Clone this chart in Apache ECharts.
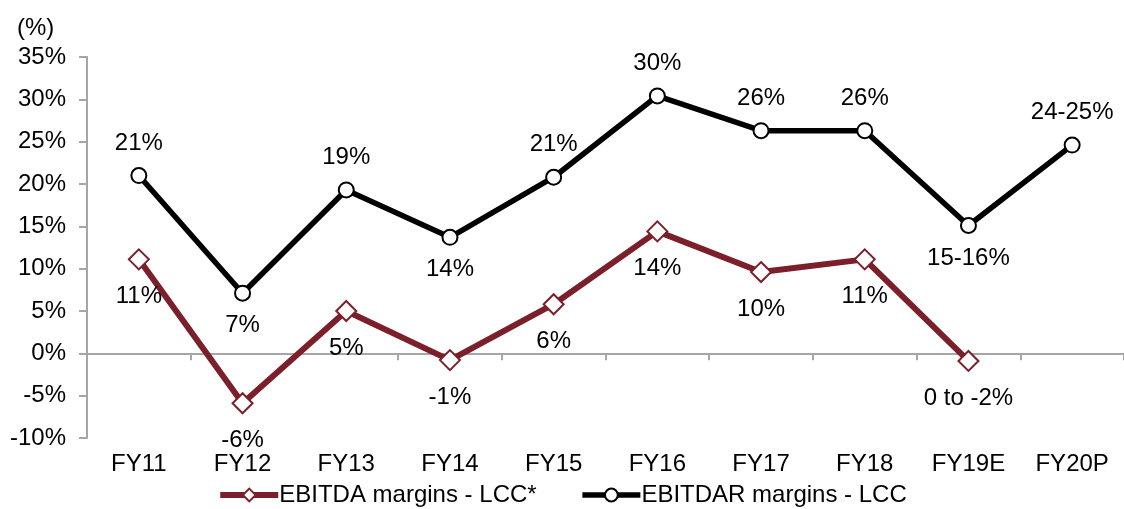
<!DOCTYPE html>
<html>
<head>
<meta charset="utf-8">
<script src="https://cdn.jsdelivr.net/npm/echarts@6/dist/echarts.min.js"></script>
<style>
  html, body { margin: 0; padding: 0; background: #fff; }
  #main { width: 1124px; height: 509px; }
</style>
</head>
<body>
<div id="main"></div>
<script>
const categories = ['FY11', 'FY12', 'FY13', 'FY14', 'FY15', 'FY16', 'FY17', 'FY18', 'FY19E', 'FY20P'];
const ebitdaValues = [11.1, -5.9, 5.0, -0.8, 5.8, 14.4, 9.6, 11.1, -0.9];
const ebitdaLabels = ['11%', '-6%', '5%', '-1%', '6%', '14%', '10%', '11%', '0 to -2%'];
const ebitdarValues = [21.0, 7.1, 19.3, 13.7, 20.8, 30.4, 26.3, 26.3, 15.1, 24.6];
const ebitdarLabels = ['21%', '7%', '19%', '14%', '21%', '30%', '26%', '26%', '15-16%', '24-25%'];
const yTicks = [-10, -5, 0, 5, 10, 15, 20, 25, 30, 35];

// which EBITDAR labels sit under the point
const ebitdarBelow = [1, 3, 8];

const font = 'Liberation Sans, Arial, sans-serif';
const axisGrey = '#a6a6a6';
const maroon = '#7b1f2b';
const fs = 24;

const chart = echarts.init(document.getElementById('main'));

const ebitdaData = ebitdaValues.map((v, i) => ({
  value: v,
  label: { formatter: ebitdaLabels[i] }
}));
const ebitdarData = ebitdarValues.map((v, i) => ({
  value: v,
  label: {
    formatter: ebitdarLabels[i],
    position: ebitdarBelow.indexOf(i) >= 0 ? 'bottom' : 'top'
  }
}));

chart.setOption({
  animation: false,
  textStyle: { fontFamily: font },
  title: {
    text: '(%)',
    left: 17,
    top: 16,
    padding: 0,
    textStyle: { fontFamily: font, fontSize: fs, fontWeight: 'normal', color: '#000' }
  },
  legend: {
    top: 483,
    left: 'center',
    padding: 0,
    itemWidth: 58,
    itemHeight: 16,
    itemGap: 43,
    textStyle: { fontFamily: font, fontSize: fs, color: '#000', padding: [0, 0, 0, -4] },
    data: [
      {
        name: 'EBITDA margins - LCC*',
        lineStyle: { color: maroon, width: 6 },
        itemStyle: { color: '#fff', borderColor: maroon, borderWidth: 2 }
      },
      {
        name: 'EBITDAR margins - LCC',
        lineStyle: { color: '#000', width: 5.5 },
        itemStyle: { color: '#fff', borderColor: '#000', borderWidth: 2 }
      }
    ]
  },
  grid: { left: 87, right: -9, top: 57, bottom: 71 },
  xAxis: [
    {
      type: 'category',
      data: categories,
      position: 'bottom',
      axisLine: { onZero: true, lineStyle: { color: axisGrey, width: 2 } },
      axisTick: { show: true, length: 7, lineStyle: { color: axisGrey, width: 2 } },
      axisLabel: { show: false }
    },
    {
      type: 'category',
      data: categories,
      position: 'bottom',
      offset: 0,
      axisLine: { show: false, onZero: false },
      axisTick: { show: false },
      axisLabel: { margin: 14, fontFamily: font, fontSize: fs, color: '#000' }
    }
  ],
  yAxis: {
    type: 'value',
    min: yTicks[0],
    max: yTicks[yTicks.length - 1],
    interval: 5,
    splitLine: { show: false },
    axisLine: { show: true, lineStyle: { color: axisGrey, width: 2 } },
    axisTick: { show: true, length: 8, lineStyle: { color: axisGrey, width: 2 } },
    axisLabel: {
      margin: 21,
      fontFamily: font,
      fontSize: fs,
      color: '#000',
      formatter: v => v + '%'
    }
  },
  series: [
    {
      name: 'EBITDA margins - LCC*',
      type: 'line',
      xAxisIndex: 0,
      data: ebitdaData,
      symbol: 'diamond',
      symbolSize: 20,
      lineStyle: { color: maroon, width: 6 },
      itemStyle: { color: '#fff', borderColor: maroon, borderWidth: 2 },
      label: {
        show: true,
        position: 'bottom',
        distance: 14,
        fontFamily: font,
        fontSize: fs,
        color: '#000'
      },
      z: 3
    },
    {
      name: 'EBITDAR margins - LCC',
      type: 'line',
      xAxisIndex: 0,
      data: ebitdarData,
      symbol: 'circle',
      symbolSize: 15,
      lineStyle: { color: '#000', width: 5.5 },
      itemStyle: { color: '#fff', borderColor: '#000', borderWidth: 2 },
      label: {
        show: true,
        distance: 12,
        fontFamily: font,
        fontSize: fs,
        color: '#000'
      },
      z: 4
    }
  ]
});
</script>
</body>
</html>
